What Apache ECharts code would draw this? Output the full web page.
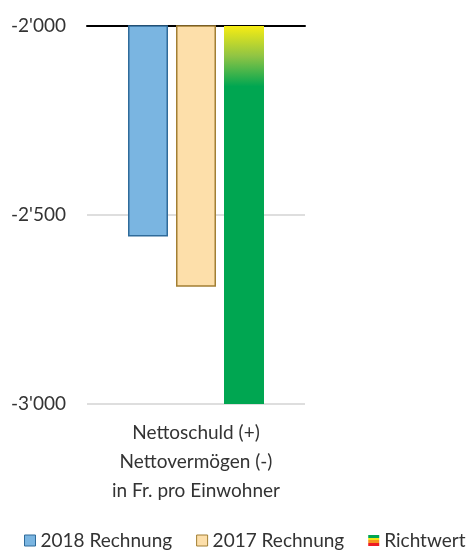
<!DOCTYPE html>
<html><head><meta charset="utf-8">
<script src="https://cdn.jsdelivr.net/npm/echarts@6/dist/echarts.min.js"></script>
<style>html,body{margin:0;padding:0;background:#fff}#c{width:470px;height:552px}</style>
</head><body><div id="c"></div>
<script>
const categories = ['Nettoschuld (+)\nNettovermögen (-)\nin Fr. pro Einwohner'];
const seriesNames = ['2018 Rechnung', '2017 Rechnung', 'Richtwert'];
const values2018 = [-2557];
const values2017 = [-2690];
const valuesRichtwert = [-3000];
const yMin = -3000, yMax = -2000, yInterval = 500;

const font = 'Lato, "Open Sans", sans-serif';
const fmt = v => { const s = Math.abs(v).toString(); const t = s.replace(/\B(?=(\d{3})+(?!\d))/g, "'"); return (v < 0 ? '-' : '') + t; };

const chart = echarts.init(document.getElementById('c'));
chart.setOption({
  animation: false,
  grid: { left: 87, right: 165, top: 26, bottom: 148 },
  legend: {
    left: 24, bottom: 2, width: 480, padding: 0, itemWidth: 11, itemHeight: 11, itemGap: 24,
    textStyle: { fontFamily: font, fontSize: 19, color: '#333' },
    data: [
      { name: seriesNames[0], icon: 'rect', itemStyle: { color: '#7ab5e1', borderColor: '#2f6b9a', borderWidth: 1 } },
      { name: seriesNames[1], icon: 'rect', itemStyle: { color: '#fddfaa', borderColor: '#a27f33', borderWidth: 1 } },
      { name: seriesNames[2], icon: 'rect', itemStyle: { borderWidth: 0, color: { type: 'linear', x: 0, y: 0, x2: 0, y2: 1, colorStops: [
        { offset: 0, color: '#00a651' }, { offset: 0.25, color: '#00a651' },
        { offset: 0.25, color: '#f5e614' }, { offset: 0.5, color: '#f5e614' },
        { offset: 0.5, color: '#f7941d' }, { offset: 0.75, color: '#f7941d' },
        { offset: 0.75, color: '#ed1c24' }, { offset: 1, color: '#ed1c24' } ] } } }
    ]
  },
  xAxis: [
    { type: 'category', data: categories, position: 'bottom',
      axisLine: { show: false }, axisTick: { show: false },
      axisLabel: { fontFamily: font, fontSize: 19, color: '#333', lineHeight: 29, margin: 14 } },
    { type: 'category', data: categories, position: 'top',
      axisLine: { show: true, lineStyle: { color: '#000', width: 2 } }, axisTick: { show: false }, axisLabel: { show: false } }
  ],
  yAxis: {
    type: 'value', min: yMin, max: yMax, interval: yInterval,
    axisLine: { show: false }, axisTick: { show: false },
    axisLabel: { formatter: fmt, fontFamily: font, fontSize: 19, color: '#333', margin: 21 },
    splitLine: { lineStyle: { color: '#dedede', width: 2 } }
  },
  series: [
    { name: seriesNames[0], type: 'bar', data: values2018, barWidth: 40, barGap: '20%',
      itemStyle: { color: '#7ab5e1', borderColor: '#2f6b9a', borderWidth: 1.5 } },
    { name: seriesNames[1], type: 'bar', data: values2017, barWidth: 40, barGap: '20%',
      itemStyle: { color: '#fddfaa', borderColor: '#a27f33', borderWidth: 1.5 } },
    { name: seriesNames[2], type: 'bar', data: valuesRichtwert, barWidth: 40, barGap: '20%',
      itemStyle: { color: { type: 'linear', x: 0, y: 0, x2: 0, y2: 1, colorStops: [
        { offset: 0, color: '#f7ec13' }, { offset: 0.08, color: '#8fc444' }, { offset: 0.16, color: '#00a651' }, { offset: 1, color: '#00a651' } ] } } }
  ]
});
</script></body></html>
